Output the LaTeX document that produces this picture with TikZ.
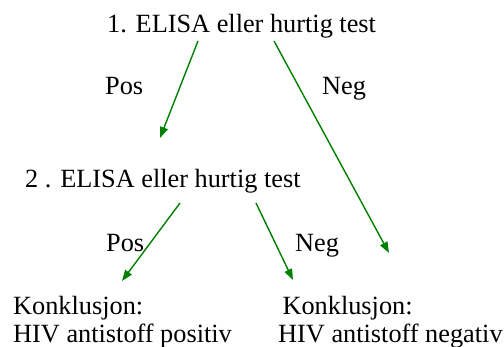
\documentclass[tikz,border=0pt]{standalone}
\usepackage{fontspec}
\setmainfont{Liberation Serif}
\usetikzlibrary{arrows.meta}
\tikzset{
  txt/.style={inner sep=0pt,anchor=base west,font=\fontsize{26.3}{28}\selectfont},
  pil/.style={draw=green!50!black,line width=1.4pt,-{Triangle[length=11pt,width=8pt]}}
}
\begin{document}
\begin{tikzpicture}[x=1pt,y=-1pt]
\useasboundingbox(0,0)rectangle(504,347);
%tekst
\node[txt](t1)at(107,33){1. ELISA eller hurtig test};
\node[txt](t2)at(25,188){2 . ELISA eller hurtig test};
\node[txt](pos1)at(105,95){Pos};
\node[txt](neg1)at(322,95){Neg};
\node[txt](pos2)at(106,252){Pos};
\node[txt](neg2)at(295,252){Neg};
\node[txt,align=left](kpos)at(13,343){Konklusjon:\\HIV antistoff positiv};
\node[txt,align=left](kneg)at(278,343){\,Konklusjon:\\HIV antistoff negativ};
%piler
\coordinate(a1)at(198,41);\coordinate(b1)at(160,138);
\coordinate(a2)at(274,41);\coordinate(b2)at(389,253);
\coordinate(a3)at(180,203);\coordinate(b3)at(122,281);
\coordinate(a4)at(256,203);\coordinate(b4)at(293,280);
\draw[pil](a1)--(b1);
\draw[pil](a2)--(b2);
\draw[pil](a3)--(b3);
\draw[pil](a4)--(b4);
\end{tikzpicture}
\end{document}
